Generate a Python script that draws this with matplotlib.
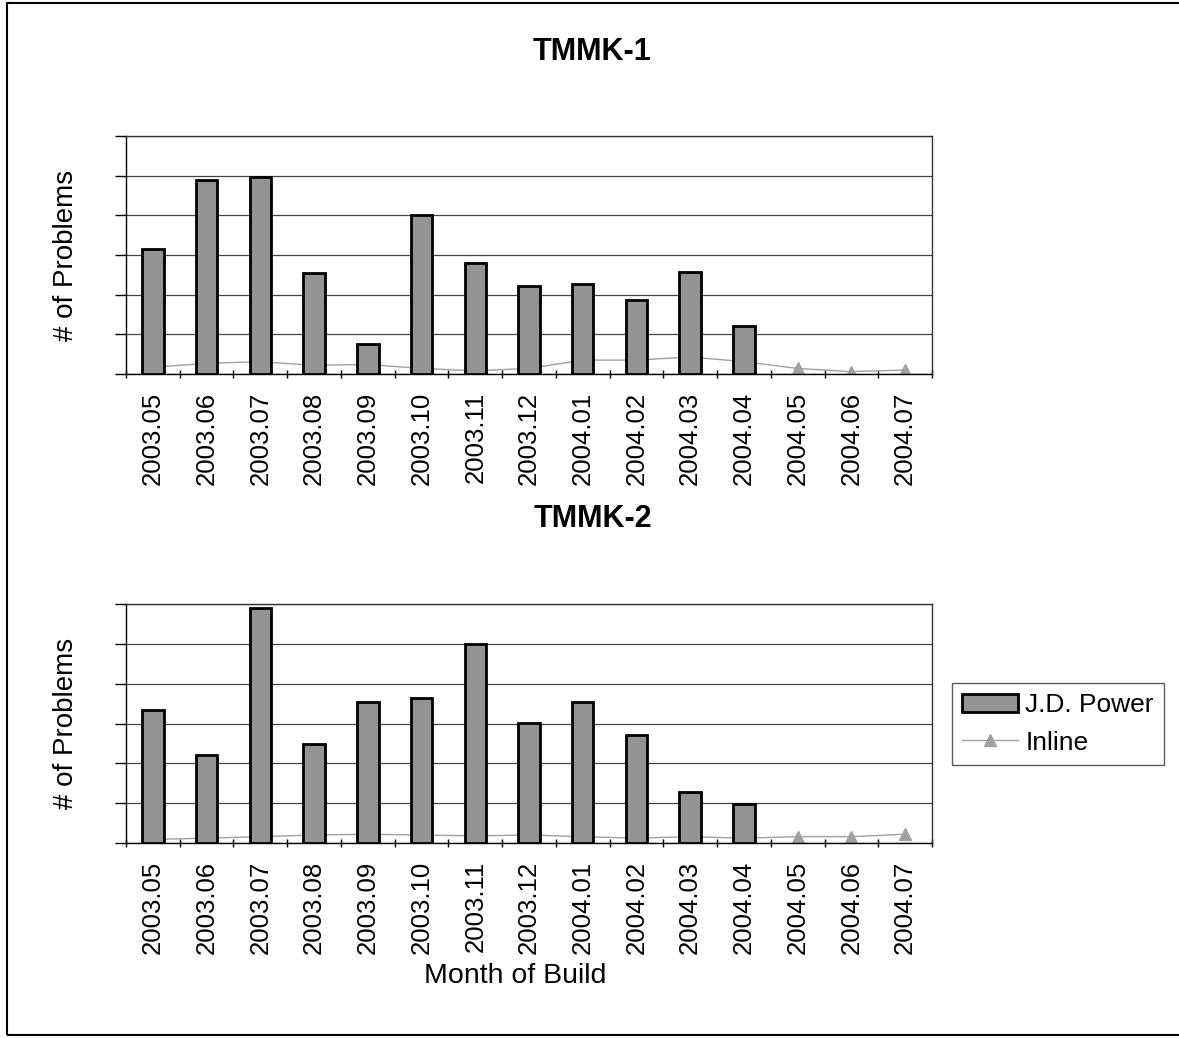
import numpy as np
import matplotlib
matplotlib.use("Agg")
import matplotlib.pyplot as plt
from matplotlib.patches import Rectangle
from matplotlib.lines import Line2D

plt.rcParams['font.family'] = ['Liberation Sans', 'DejaVu Sans']

months = ["2003.05", "2003.06", "2003.07", "2003.08", "2003.09", "2003.10", "2003.11",
          "2003.12", "2004.01", "2004.02", "2004.03", "2004.04", "2004.05", "2004.06", "2004.07"]

tmmk1_jdpower = [3.15, 4.90, 4.97, 2.54, 0.75, 4.02, 2.81, 2.21, 2.26, 1.86, 2.56, 1.22, None, None, None]
tmmk1_inline = [0.17, 0.27, 0.31, 0.22, 0.24, 0.14, 0.08, 0.14, 0.35, 0.35, 0.43, 0.31, 0.14, 0.06, 0.10]

tmmk2_jdpower = [3.33, 2.20, 5.89, 2.49, 3.54, 3.64, 5.00, 3.01, 3.54, 2.70, 1.28, 0.97, None, None, None]
tmmk2_inline = [0.09, 0.12, 0.16, 0.20, 0.22, 0.20, 0.18, 0.20, 0.16, 0.12, 0.16, 0.12, 0.16, 0.16, 0.22]

titles = ["TMMK-1", "TMMK-2"]

W, H = 1179, 1038
fig = plt.figure(figsize=(W / 100, H / 100), dpi=100)

def fx(px):
    return px / W

def fy(py):
    return 1 - py / H

bar_color = "#939393"
line_color = "#a0a0a0"

def draw(ax, jd, inl):
    x = np.arange(len(months))
    jd_vals = np.array([np.nan if v is None else v for v in jd], dtype=float)
    ax.plot(x, inl, color=line_color, lw=1.0, marker="^", markersize=9,
            markerfacecolor="#a0a0a0", markeredgecolor="#a0a0a0", zorder=2)
    ax.bar(x, jd_vals, width=0.40, color=bar_color, edgecolor="black", linewidth=2.0, zorder=3)
    ax.set_xlim(-0.5, len(months) - 0.5)
    ax.set_ylim(0, 6)
    ax.set_yticks(np.arange(0, 7, 1))
    ax.set_yticklabels([])
    ax.yaxis.grid(True, color="#444444", lw=0.9, zorder=0)
    ax.set_axisbelow(True)
    ax.set_xticks(x)
    ax.set_xticklabels(months, rotation=90, fontsize=18.5)
    ax.tick_params(axis="x", which="major", length=0, pad=13)
    ax.set_xticks(np.arange(-0.5, len(months), 1), minor=True)
    ax.tick_params(axis="x", which="minor", length=6, width=1.0, direction="inout", color="black")
    ax.tick_params(axis="y", length=8, width=1.0, direction="out", color="black")
    for s in ax.spines.values():
        s.set_color("#333333")
        s.set_linewidth(1.0)
    ax.spines["left"].set_color("black")
    ax.spines["bottom"].set_color("black")
    ax.set_ylabel("# of Problems", fontsize=20, labelpad=22)

ax1 = fig.add_axes([fx(126), fy(374), fx(932 - 126), (374 - 136) / H])
draw(ax1, tmmk1_jdpower, tmmk1_inline)
ax2 = fig.add_axes([fx(126), fy(843), fx(932 - 126), (843 - 604) / H])
draw(ax2, tmmk2_jdpower, tmmk2_inline)

fig.text(fx(592), fy(52), titles[0], ha="center", va="center", fontsize=22, fontweight="bold")
fig.text(fx(593), fy(519), titles[1], ha="center", va="center", fontsize=22, fontweight="bold")
fig.text(fx(515), fy(976), "Month of Build", ha="center", va="center", fontsize=20.5)

handles = [Rectangle((0, 0), 1, 1, facecolor=bar_color, edgecolor="black", linewidth=2.0),
           Line2D([], [], color=line_color, lw=1.0, marker="^", markersize=9,
                  markerfacecolor="#a0a0a0", markeredgecolor="#a0a0a0")]
leg = fig.legend(handles, ["J.D. Power", "Inline"], loc="center",
                 bbox_to_anchor=(fx(1058), fy(724)), fontsize=19, frameon=True,
                 fancybox=False, edgecolor="#333333", handlelength=2.1, handletextpad=0.3,
                 borderpad=0.4, labelspacing=0.5)
leg.get_frame().set_linewidth(1.0)

fig.patches.append(Rectangle((fx(7), fy(1035)), fx(1179 - 7) + 0.05, (1035 - 3) / H,
                             transform=fig.transFigure, fill=False, edgecolor="black", lw=1.5))

fig.savefig("out.png", dpi=100, facecolor="white")
